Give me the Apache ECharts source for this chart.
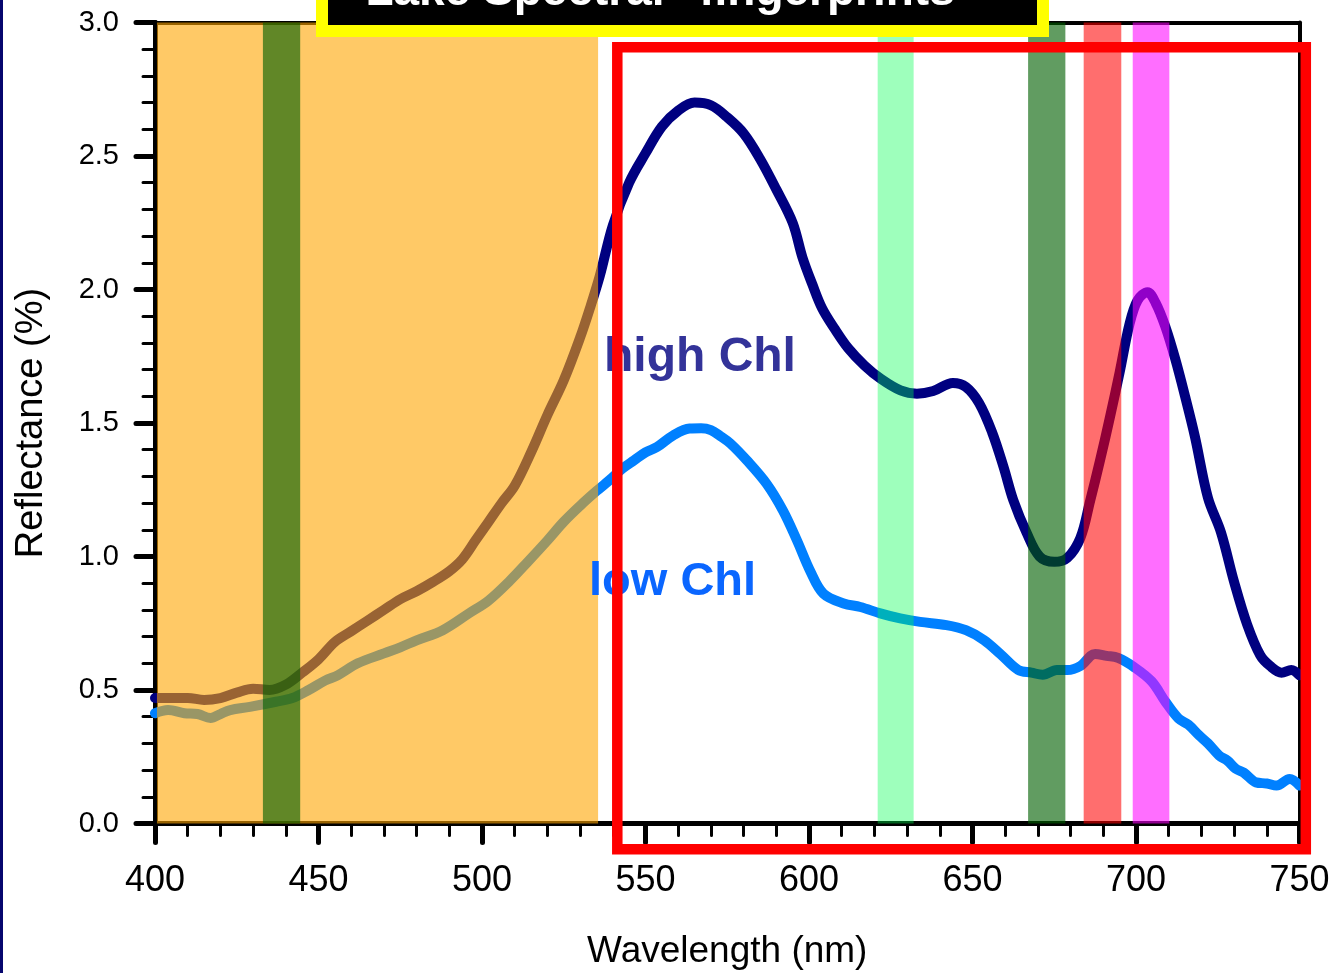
<!DOCTYPE html>
<html>
<head>
<meta charset="utf-8">
<script src="https://cdn.jsdelivr.net/npm/echarts@6/dist/echarts.min.js"></script>
<style>
html,body{margin:0;padding:0;background:#fff;overflow:hidden;}
#chart{width:1336px;height:973px;}
</style>
</head>
<body>
<div id="chart"></div>
<script>
// ---- data ----
const highWl  = [400,405,410,415,420,425,430,435,440,445,450,455,460,465,470,475,480,485,490,494,498,502,506,510,515,520,525,530,533,536,540,545,550,555,560,565,570,575,580,585,590,595,598,601,604,608,612,617,622,628,633,638,644,648,652,656,659.5,662.5,666.5,670.5,675,679,683,686,689,692,695,698,700.5,703.5,706,709,712,715,718,722,726,730,734,738,741,744.5,747.5,750];
const highVal = [0.47,0.47,0.47,0.463,0.47,0.49,0.505,0.50,0.52,0.565,0.615,0.68,0.72,0.76,0.80,0.84,0.87,0.905,0.945,0.99,1.06,1.13,1.20,1.265,1.39,1.53,1.66,1.82,1.93,2.05,2.24,2.40,2.51,2.61,2.67,2.70,2.69,2.645,2.585,2.49,2.375,2.25,2.12,2.02,1.93,1.85,1.78,1.715,1.665,1.622,1.61,1.62,1.65,1.635,1.575,1.465,1.335,1.21,1.09,1.0,0.98,0.995,1.07,1.21,1.36,1.52,1.69,1.87,1.96,1.99,1.95,1.86,1.74,1.60,1.45,1.22,1.09,0.905,0.745,0.63,0.59,0.565,0.575,0.555];
const lowWl   = [400,404,409,413,417,420,423,429,437,442,447,452,456,462,470,475,480,488,496,502,508.6,514,520,525,530,535,539,543,546.5,550,553.5,558.5,563.5,567,570,573,576,581,587,592,596.3,600.4,604.4,610.6,615.7,621.8,627.9,634,642,648,653.5,658.5,664,668,671.5,675.8,679,683,687.5,691,694.5,699.5,704.8,709,713,716,719.3,722,725.4,728,730.5,733,736.7,740,743,747,750];
const lowVal  = [0.413,0.425,0.413,0.41,0.395,0.41,0.425,0.437,0.456,0.47,0.50,0.535,0.556,0.60,0.637,0.66,0.686,0.724,0.787,0.835,0.91,0.98,1.06,1.13,1.19,1.245,1.286,1.33,1.36,1.39,1.41,1.454,1.479,1.48,1.473,1.45,1.423,1.36,1.273,1.173,1.061,0.945,0.861,0.824,0.811,0.787,0.768,0.755,0.743,0.724,0.687,0.635,0.575,0.565,0.557,0.575,0.575,0.59,0.635,0.628,0.62,0.585,0.532,0.456,0.393,0.37,0.33,0.30,0.255,0.235,0.205,0.19,0.154,0.15,0.142,0.167,0.142];
const bandStart = [400.6, 433, 621, 667, 684, 699];
const bandEnd   = [535.5, 444.4, 632, 678.4, 695.5, 710.2];
const bandColor = ['rgba(255,165,0,0.6)','rgba(0,95,0,0.62)','rgba(0,255,80,0.38)','rgba(0,95,0,0.62)','rgba(255,0,0,0.57)','rgba(255,0,255,0.57)'];
const xTicks = {min:400, max:750, interval:50};
const yTicks = {min:0, max:3, interval:0.5};
const titleText = 'Lake Spectral "fingerprints"';
const xName = 'Wavelength (nm)';
const yName = 'Reflectance (%)';
const highLabel = 'high Chl';
const lowLabel = 'low Chl';

const FONT = "'Liberation Sans', Arial, Helvetica, sans-serif";
const chart = echarts.init(document.getElementById('chart'), null, {renderer:'canvas'});

const highData = highWl.map((w,i)=>[w, highVal[i]]);
const lowData = lowWl.map((w,i)=>[w, lowVal[i]]);
const bandData = bandStart.map((s,i)=>[s, bandEnd[i], i]);

chart.setOption({
  animation:false,
  backgroundColor:'#fff',
  grid:{left:155, right:36.5, top:22.5, bottom:149.5, containLabel:false, outerBoundsMode:'none'},
  xAxis:[{
    type:'value', min:xTicks.min, max:xTicks.max, interval:xTicks.interval,
    name:xName, nameLocation:'middle', nameGap:110,
    nameTextStyle:{fontFamily:FONT, fontSize:37, color:'#000'},
    axisLine:{show:true, onZero:false, lineStyle:{color:'#000', width:5}},
    axisTick:{show:true, inside:false, length:19, lineStyle:{color:'#000', width:5, cap:'round'}},
    minorTick:{show:true, splitNumber:5, length:12, lineStyle:{color:'#000', width:3, cap:'round'}},
    axisLabel:{fontFamily:FONT, fontSize:36, color:'#000', margin:40},
    splitLine:{show:false}
  },{
    type:'value', position:'top', min:xTicks.min, max:xTicks.max,
    axisLine:{show:true, onZero:false, lineStyle:{color:'#000', width:4}},
    axisTick:{show:false}, axisLabel:{show:false}, splitLine:{show:false}
  }],
  yAxis:[{
    type:'value', min:yTicks.min, max:yTicks.max, interval:yTicks.interval,
    name:yName, nameLocation:'middle', nameGap:104, nameRotate:90,
    nameTextStyle:{fontFamily:FONT, fontSize:38, color:'#000'},
    axisLine:{show:true, onZero:false, lineStyle:{color:'#000', width:5}},
    axisTick:{show:true, inside:false, length:19, lineStyle:{color:'#000', width:5, cap:'round'}},
    minorTick:{show:true, splitNumber:5, length:12, lineStyle:{color:'#000', width:3, cap:'round'}},
    axisLabel:{fontFamily:FONT, fontSize:29, color:'#000', margin:36, formatter:v=>v.toFixed(1)},
    splitLine:{show:false}
  },{
    type:'value', position:'right', min:yTicks.min, max:yTicks.max,
    axisLine:{show:true, onZero:false, lineStyle:{color:'#000', width:4}},
    axisTick:{show:false}, axisLabel:{show:false}, splitLine:{show:false}
  }],
  series:[
    {type:'line', name:'high', data:highData, showSymbol:false, z:2, smooth:0.35,
     lineStyle:{color:'#000080', width:10, cap:'round', join:'round'}},
    {type:'line', name:'low', data:lowData, showSymbol:false, z:2, smooth:0.35,
     lineStyle:{color:'#0080FF', width:10, cap:'round', join:'round'}},
    {type:'custom', name:'bands', data:bandData, z:5, silent:true,
     encode:{x:[0,1]},
     renderItem:function(params, api){
       const p0 = api.coord([api.value(0), yTicks.max]);
       const p1 = api.coord([api.value(1), yTicks.min]);
       return {type:'rect', shape:{x:p0[0], y:p0[1], width:p1[0]-p0[0], height:p1[1]-p0[1]},
               style:{fill:bandColor[api.value(2)]}};
     }}
  ],
  graphic:[
    {type:'rect', z:100, shape:{x:0, y:0, width:3, height:973}, style:{fill:'#06066e'}},
    {type:'text', z:100, style:{text:highLabel, x:604, y:358, font:'bold 48px '+FONT, fill:'#333399', textVerticalAlign:'middle'}},
    {type:'text', z:100, style:{text:lowLabel, x:589, y:582, font:'bold 47px '+FONT, fill:'#0A66FF', textVerticalAlign:'middle'}},
    {type:'rect', z:110, shape:{x:617.3, y:47.2, width:688.5, height:802}, style:{fill:'none', stroke:'#FF0000', lineWidth:10.5}},
    {type:'rect', z:120, shape:{x:322, y:-40, width:721, height:71}, style:{fill:'#000', stroke:'#FFFF00', lineWidth:12}},
    {type:'text', z:130, style:{text:titleText, x:671, y:-8, font:'bold 46px '+FONT, fill:'#fff', textAlign:'center', textVerticalAlign:'middle'}}
  ]
});
</script>
</body>
</html>
